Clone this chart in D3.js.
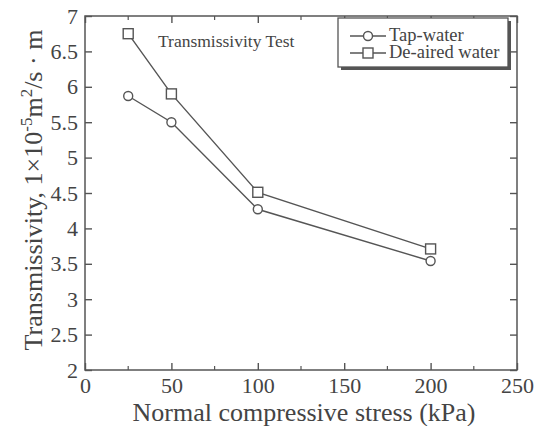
<!DOCTYPE html>
<html>
<head>
<meta charset="utf-8">
<script src="https://cdn.jsdelivr.net/npm/d3@7"></script>
<style>
  body { margin: 0; background: #fff; }
  text { font-family: "Liberation Serif", "Times New Roman", serif; fill: #444; }
</style>
</head>
<body>
<svg id="chart" width="539" height="426"></svg>
<script>
// data
var stress = [25, 50, 100, 200];
var tapWater = [5.87, 5.50, 4.27, 3.54];
var deAired = [6.75, 5.90, 4.51, 3.71];
var seriesNames = ["Tap-water", "De-aired water"];
var xTicks = [0, 50, 100, 150, 200, 250];
var xMinor = [25, 75, 125, 175, 225];
var yTicks = [2, 2.5, 3, 3.5, 4, 4.5, 5, 5.5, 6, 6.5, 7];

// plot box (don't call it "top", that's window.top)
var pLeft = 85, pRight = 517, pTop = 16, pBottom = 370;
var ink = "#555";

var svg = d3.select("#chart");

var x = d3.scaleLinear().domain([0, 250]).range([pLeft, pRight]);
var y = d3.scaleLinear().domain([2, 7]).range([pBottom, pTop]);

// frame
svg.append("rect")
  .attr("x", pLeft).attr("y", pTop)
  .attr("width", pRight - pLeft).attr("height", pBottom - pTop)
  .attr("fill", "none").attr("stroke", ink).attr("stroke-width", 1.5);

// bottom axis, ticks pointing in
var xAxis = d3.axisBottom(x).tickValues(xTicks).tickSizeInner(-7).tickSizeOuter(0).tickPadding(7);
var gx = svg.append("g").attr("transform", "translate(0," + pBottom + ")").call(xAxis);
// top ticks only
var gxTop = svg.append("g").attr("transform", "translate(0," + pTop + ")")
  .call(d3.axisTop(x).tickValues(xTicks).tickSizeInner(-7).tickSizeOuter(0).tickFormat(""));

// minor ticks on x, top and bottom
svg.append("g").selectAll("line").data(xMinor).enter().append("line")
  .attr("x1", d => x(d)).attr("x2", d => x(d))
  .attr("y1", pBottom).attr("y2", pBottom - 4)
  .attr("stroke", ink).attr("stroke-width", 1.2);
svg.append("g").selectAll("line").data(xMinor).enter().append("line")
  .attr("x1", d => x(d)).attr("x2", d => x(d))
  .attr("y1", pTop).attr("y2", pTop + 4)
  .attr("stroke", ink).attr("stroke-width", 1.2);

var yAxis = d3.axisLeft(y).tickValues(yTicks).tickSizeInner(-7).tickSizeOuter(0).tickPadding(7)
  .tickFormat(d3.format("~g"));
var gy = svg.append("g").attr("transform", "translate(" + pLeft + ",0)").call(yAxis);
var gyR = svg.append("g").attr("transform", "translate(" + pRight + ",0)")
  .call(d3.axisRight(y).tickValues(yTicks).tickSizeInner(-7).tickSizeOuter(0).tickFormat(""));

[gx, gxTop, gy, gyR].forEach(function(g){
  g.select(".domain").remove();
  g.selectAll("line").attr("stroke", ink).attr("stroke-width", 1.4);
  g.selectAll("text").attr("font-size", 22).attr("fill", "#444")
    .style("font-family", "'Liberation Serif', serif");
});

// axis titles
svg.append("text")
  .attr("x", 304).attr("y", 421)
  .attr("text-anchor", "middle").attr("font-size", 26)
  .text("Normal compressive stress (kPa)");

var yt = svg.append("text")
  .attr("transform", "translate(42,190) rotate(-90)")
  .attr("text-anchor", "middle").attr("font-size", 26);
yt.append("tspan").text("Transmissivity, 1\u00d710");
yt.append("tspan").attr("font-size", 17).attr("dy", -10).text("-5");
yt.append("tspan").attr("dy", 10).text("m");
yt.append("tspan").attr("font-size", 17).attr("dy", -10).text("2");
yt.append("tspan").attr("dy", 10).text("/s \u00b7 m");

// chart note
svg.append("text")
  .attr("x", 158).attr("y", 47).attr("font-size", 17.5)
  .text("Transmissivity Test");

// series
var series = [
  { name: seriesNames[0], values: tapWater, shape: "circle" },
  { name: seriesNames[1], values: deAired, shape: "square" }
];

var line = d3.line()
  .x(function(d){ return x(d[0]); })
  .y(function(d){ return y(d[1]); });

function drawMarker(g, shape, cx, cy) {
  if (shape === "circle") {
    g.append("circle").attr("cx", cx).attr("cy", cy).attr("r", 4.5)
      .attr("fill", "#fff").attr("stroke", ink).attr("stroke-width", 1.4);
  } else {
    g.append("rect").attr("x", cx - 5).attr("y", cy - 5).attr("width", 10).attr("height", 10)
      .attr("fill", "#fff").attr("stroke", ink).attr("stroke-width", 1.4);
  }
}

series.forEach(function(s){
  var pts = d3.zip(stress, s.values);
  svg.append("path").datum(pts)
    .attr("d", line).attr("fill", "none")
    .attr("stroke", ink).attr("stroke-width", 1.4);
  var g = svg.append("g");
  pts.forEach(function(p){ drawMarker(g, s.shape, x(p[0]), y(p[1])); });
});

// legend with drop shadow
var lg = svg.append("g");
lg.append("rect").attr("x", 341).attr("y", 21).attr("width", 170).attr("height", 49)
  .attr("fill", "#555");
lg.append("rect").attr("x", 338).attr("y", 18).attr("width", 170).attr("height", 49)
  .attr("fill", "#fff").attr("stroke", ink).attr("stroke-width", 1.3);
series.forEach(function(s, i){
  var ly = 36 + i * 17;
  lg.append("line").attr("x1", 350).attr("x2", 386).attr("y1", ly).attr("y2", ly)
    .attr("stroke", ink).attr("stroke-width", 1.3);
  drawMarker(lg, s.shape, 368, ly);
  lg.append("text").attr("x", 389).attr("y", ly + 5).attr("font-size", 18.5).text(s.name);
});
</script>
</body>
</html>
